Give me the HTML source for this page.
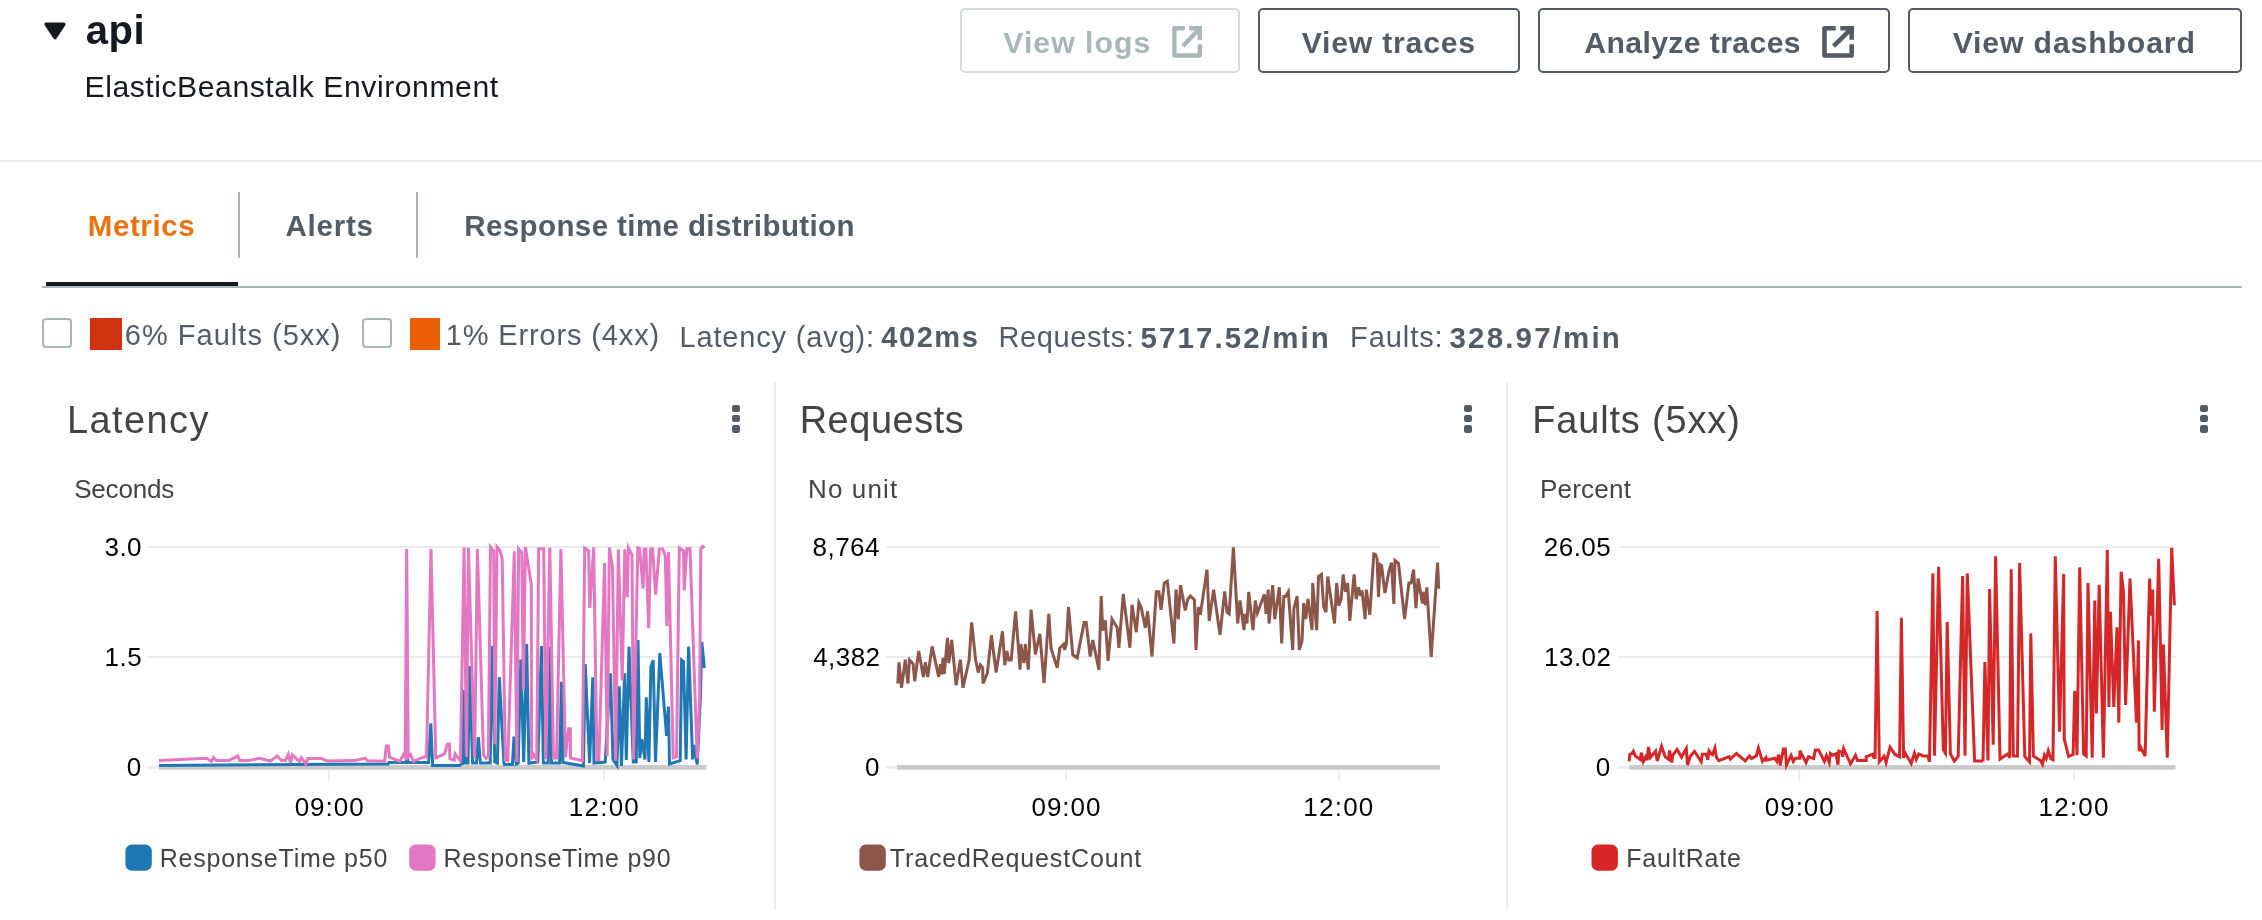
<!DOCTYPE html>
<html lang="en"><head><meta charset="utf-8"><title>api - ElasticBeanstalk Environment</title>
<style>
html,body{margin:0;padding:0;background:#fff;}
body{width:2262px;height:920px;position:relative;overflow:hidden;font-family:"Liberation Sans",sans-serif;}
.t{position:absolute;white-space:nowrap;line-height:1;display:block;margin:0;padding:0;font-weight:normal;text-decoration:none;}
#page{position:absolute;left:0;top:0;width:2262px;height:920px;will-change:transform;}
.abs{position:absolute;}
.btn{position:absolute;box-sizing:border-box;top:8.2px;height:65.2px;border:2px solid #545b64;border-radius:5px;background:#fff;margin:0;padding:0;font:inherit;overflow:visible;text-align:left;}
.btn.dis{border-color:#d5dbdb;}
.cb{position:absolute;box-sizing:border-box;width:30px;height:30px;top:318px;border:2px solid #aab7b8;border-radius:4px;background:#fff;}
.dot{position:absolute;width:8px;height:7.6px;border-radius:2.2px;background:#545b64;}
svg{position:absolute;left:0;top:0;}
</style></head><body><div id="page">

<header>
<svg width="120" height="60" viewBox="0 0 120 60"><path d="M46.2 24.2 L63.8 24.2 L55 37.6 Z" fill="#16191f" stroke="#16191f" stroke-width="3.6" stroke-linejoin="round"/></svg>
<h2 class="t " style="left:85.80px;top:9.94px;font-size:40.00px;letter-spacing:0.450px;color:#16191f;font-weight:bold;">api</h2>
<span class="t " style="left:84.51px;top:72.34px;font-size:30.20px;letter-spacing:0.528px;color:#16191f;">ElasticBeanstalk Environment</span>
<button type="button" class="btn dis" disabled style="left:960.2px;width:279.5px;"><span class="t " style="left:41.16px;top:18.04px;font-size:30.20px;letter-spacing:1.019px;color:#aab7b8;font-weight:bold;">View logs</span></button>
<button type="button" class="btn" style="left:1258.2px;width:261.6px;"><span class="t " style="left:41.46px;top:18.04px;font-size:30.20px;letter-spacing:0.790px;color:#545b64;font-weight:bold;">View traces</span></button>
<button type="button" class="btn" style="left:1538.4px;width:351.4px;"><span class="t " style="left:43.84px;top:18.04px;font-size:30.20px;letter-spacing:0.384px;color:#545b64;font-weight:bold;">Analyze traces</span></button>
<button type="button" class="btn" style="left:1908.4px;width:333.4px;"><span class="t " style="left:42.26px;top:18.04px;font-size:30.20px;letter-spacing:0.867px;color:#545b64;font-weight:bold;">View dashboard</span></button>
<svg width="2262" height="80" viewBox="0 0 2262 80" style="pointer-events:none"><g transform="translate(0,0)" fill="none" stroke="#545b64" stroke-width="4.6"><path d="M1835.7 28.3 H1824.5 V55.5 H1851.7 V44.2" stroke-linejoin="round"/><path d="M1840.3 28.3 H1851.7 V39.7" stroke-linejoin="miter"/><path d="M1851.7 28.3 L1833.6 46.1"/></g></svg>
<svg width="2262" height="80" viewBox="0 0 2262 80" style="pointer-events:none"><g transform="translate(1172.2,0) scale(0.937,1) translate(-1822.2,0)" fill="none" stroke="#aab7b8" stroke-width="4.6"><path d="M1835.7 28.3 H1824.5 V55.5 H1851.7 V44.2" stroke-linejoin="round"/><path d="M1840.3 28.3 H1851.7 V39.7" stroke-linejoin="miter"/><path d="M1851.7 28.3 L1833.6 46.1"/></g></svg>
</header>
<div class="abs" style="left:0;top:160px;width:2262px;height:2px;background:#eaeded"></div>
<nav>
<a class="t " style="left:87.71px;top:210.53px;font-size:29.50px;letter-spacing:0.620px;color:#ec7211;font-weight:bold;">Metrics</a>
<a class="t " style="left:285.46px;top:210.53px;font-size:29.50px;letter-spacing:0.792px;color:#545b64;font-weight:bold;">Alerts</a>
<a class="t " style="left:464.31px;top:210.73px;font-size:29.50px;letter-spacing:0.400px;color:#545b64;font-weight:bold;">Response time distribution</a>
<div class="abs" style="left:238px;top:192px;width:2px;height:66px;background:#aab7b8"></div>
<div class="abs" style="left:416px;top:192px;width:2px;height:66px;background:#aab7b8"></div>
<div class="abs" style="left:42px;top:286px;width:2200px;height:2px;background:#aab7b8"></div>
<div class="abs" style="left:46px;top:281.7px;width:192px;height:4.3px;background:#16191f"></div>
</nav>
<section>
<div class="cb" style="left:42.3px"></div>
<div class="abs" style="left:89.8px;top:318.1px;width:32.1px;height:31.5px;background:#d13212"></div>
<span class="t " style="left:124.85px;top:321.25px;font-size:29.00px;letter-spacing:1.013px;color:#545b64;">6% Faults (5xx)</span>
<div class="cb" style="left:361.8px"></div>
<div class="abs" style="left:409.9px;top:318.1px;width:30.1px;height:31.5px;background:#eb5f07"></div>
<span class="t " style="left:445.72px;top:321.25px;font-size:29.00px;letter-spacing:0.858px;color:#545b64;">1% Errors (4xx)</span>
<span class="t " style="left:679.51px;top:323.05px;font-size:29.00px;letter-spacing:0.840px;color:#545b64;">Latency (avg):</span>
<span class="t " style="left:881.37px;top:323.05px;font-size:29.00px;letter-spacing:1.533px;color:#545b64;font-weight:bold;">402ms</span>
<span class="t " style="left:998.41px;top:323.05px;font-size:29.00px;letter-spacing:0.616px;color:#545b64;">Requests:</span>
<span class="t " style="left:1140.52px;top:322.63px;font-size:29.50px;letter-spacing:2.099px;color:#545b64;font-weight:bold;">5717.52/min</span>
<span class="t " style="left:1350.01px;top:323.05px;font-size:29.00px;letter-spacing:0.934px;color:#545b64;">Faults:</span>
<span class="t " style="left:1449.54px;top:322.63px;font-size:29.50px;letter-spacing:2.157px;color:#545b64;font-weight:bold;">328.97/min</span>
</section>
<main>
<div class="abs" style="left:774px;top:382px;width:2px;height:528px;background:#eaeded"></div>
<div class="abs" style="left:1506px;top:382px;width:2px;height:528px;background:#eaeded"></div>
<h3 class="t " style="left:67.07px;top:401.72px;font-size:37.90px;letter-spacing:1.443px;color:#444444;">Latency</h3>
<h3 class="t " style="left:799.67px;top:401.72px;font-size:37.90px;letter-spacing:0.575px;color:#444444;">Requests</h3>
<h3 class="t " style="left:1532.27px;top:401.72px;font-size:37.90px;letter-spacing:0.870px;color:#444444;">Faults (5xx)</h3>
<span class="t " style="left:74.13px;top:476.29px;font-size:26.00px;letter-spacing:-0.171px;color:#444444;">Seconds</span>
<span class="t " style="left:808.06px;top:476.29px;font-size:26.00px;letter-spacing:1.114px;color:#444444;">No unit</span>
<span class="t " style="left:1539.95px;top:476.29px;font-size:26.00px;letter-spacing:0.228px;color:#444444;">Percent</span>
<div class="dot" style="left:732.1px;top:404.6px"></div>
<div class="dot" style="left:732.1px;top:414.9px"></div>
<div class="dot" style="left:732.1px;top:425.2px"></div>
<div class="dot" style="left:1464.2px;top:404.6px"></div>
<div class="dot" style="left:1464.2px;top:414.9px"></div>
<div class="dot" style="left:1464.2px;top:425.2px"></div>
<div class="dot" style="left:2200px;top:404.6px"></div>
<div class="dot" style="left:2200px;top:414.9px"></div>
<div class="dot" style="left:2200px;top:425.2px"></div>
<svg width="2262" height="920" viewBox="0 0 2262 920">
<rect x="148" y="546" width="558.5" height="2" fill="#ececec"/>
<rect x="148" y="656" width="558.5" height="2" fill="#ececec"/>
<rect x="148" y="766" width="10.5" height="2.8" fill="#ececec"/>
<rect x="328.1" y="768" width="1.8" height="13" fill="#ececec"/>
<rect x="603.1" y="768" width="1.8" height="13" fill="#ececec"/>
<rect x="158.5" y="765" width="548.0" height="4.7" fill="#cbcbcb"/>
<rect x="886" y="546" width="554" height="2" fill="#ececec"/>
<rect x="886" y="656" width="554" height="2" fill="#ececec"/>
<rect x="886" y="766" width="10.899999999999977" height="2.8" fill="#ececec"/>
<rect x="1065.1" y="768" width="1.8" height="13" fill="#ececec"/>
<rect x="1337.8999999999999" y="768" width="1.8" height="13" fill="#ececec"/>
<rect x="896.9" y="765" width="543.1" height="4.7" fill="#cbcbcb"/>
<rect x="1618" y="546" width="557.5" height="2" fill="#ececec"/>
<rect x="1618" y="656" width="557.5" height="2" fill="#ececec"/>
<rect x="1618" y="766" width="11" height="2.8" fill="#ececec"/>
<rect x="1798.3999999999999" y="768" width="1.8" height="13" fill="#ececec"/>
<rect x="2073.1" y="768" width="1.8" height="13" fill="#ececec"/>
<rect x="1629" y="765" width="546.5" height="4.7" fill="#cbcbcb"/>
<polyline points="159.0,765.4 335.0,764.3 388.0,764.0 389.0,762.6 406.3,762.6 407.0,720.0 407.7,762.6 428.6,762.6 430.8,723.3 432.6,765.4 459.5,765.4 462.6,763.5 464.0,690.0 465.4,763.0 468.0,763.0 469.6,666.0 472.6,763.0 476.5,763.0 478.3,737.0 480.4,763.0 490.2,763.0 492.1,646.0 494.8,762.0 497.4,763.0 499.3,677.2 503.9,763.0 504.5,764.5 512.4,764.5 514.0,736.5 516.3,764.0 518.2,763.0 520.8,659.6 523.7,762.0 526.7,644.0 528.9,763.3 537.8,762.0 541.5,646.0 543.3,763.0 548.2,763.0 549.8,647.0 551.5,763.0 559.6,763.0 561.5,681.7 562.8,762.5 583.5,765.9 585.2,664.0 589.6,763.0 592.8,677.2 594.0,763.0 605.2,762.0 610.4,673.3 613.0,759.5 617.0,765.5 619.3,686.3 621.5,766.0 624.6,673.3 626.3,760.0 629.0,646.6 633.3,762.0 636.2,762.0 638.0,640.0 639.8,758.0 641.8,739.2 645.0,759.4 646.3,697.4 648.9,762.0 650.9,666.7 653.2,660.2 655.5,762.0 659.8,653.0 666.6,736.0 668.4,706.5 669.5,764.0 680.2,760.7 681.6,660.0 683.5,661.5 686.1,759.4 688.6,646.6 692.6,759.4 694.0,745.0 697.2,764.6 700.3,700.0 701.8,642.0 704.4,668.0" fill="none" stroke="#1f77b4" stroke-width="3" stroke-linejoin="miter" stroke-miterlimit="4"/>
<polyline points="159.0,760.6 206.7,758.2 211.5,761.4 213.5,757.5 216.3,760.6 229.0,760.6 237.8,755.9 239.7,760.6 248.9,760.6 259.6,758.2 270.4,761.0 277.1,755.9 281.5,760.6 285.5,760.6 288.3,754.3 290.5,763.0 292.3,755.1 299.4,761.4 301.4,757.9 305.9,764.2 307.8,758.5 321.3,758.5 327.7,761.0 354.4,760.6 365.2,758.2 367.6,761.0 384.7,761.0 386.3,745.9 388.3,745.9 389.5,757.1 399.8,761.4 403.4,754.7 405.2,757.0 406.7,549.0 408.2,757.0 410.5,754.7 413.3,761.4 425.3,756.3 426.5,757.0 431.0,549.0 435.8,758.0 436.4,757.9 444.4,753.9 447.5,743.9 449.5,743.9 449.9,758.6 454.3,760.2 455.1,753.9 460.2,760.5 460.5,757.0 464.1,547.5 466.5,757.0 468.4,547.5 474.6,759.3 477.4,549.0 483.5,755.0 486.0,758.5 488.3,757.0 490.5,547.0 493.7,551.0 494.9,744.3 497.0,547.0 500.0,550.4 502.2,559.0 505.3,760.0 507.8,760.8 514.3,551.3 516.9,762.0 518.6,548.7 521.8,552.5 523.4,689.6 525.4,547.0 531.3,584.5 531.6,759.3 533.5,754.1 536.7,759.3 538.7,548.7 543.7,548.7 545.9,759.3 549.8,547.5 553.5,758.0 556.5,758.0 560.9,549.0 565.4,757.4 568.7,728.7 570.3,728.7 570.5,758.0 582.4,760.6 584.7,548.0 588.6,550.7 589.8,608.0 593.7,547.4 596.9,759.5 598.9,759.5 604.6,563.0 607.2,756.0 609.4,547.4 612.5,567.0 615.7,760.7 618.3,549.4 622.2,680.4 624.8,549.4 627.2,597.2 628.4,548.0 632.0,554.6 633.5,759.4 637.8,547.8 639.5,548.3 643.1,588.5 644.1,548.9 645.9,548.9 648.7,628.2 650.6,548.9 652.6,548.9 655.6,594.7 659.4,548.9 662.7,548.9 665.3,556.0 666.8,626.0 668.5,551.8 673.2,758.0 676.5,757.0 679.3,548.0 683.5,550.7 684.2,590.5 686.8,548.7 690.0,548.7 697.2,758.5 699.6,700.0 700.8,549.0 702.5,546.5 704.5,548.0" fill="none" stroke="#e377c2" stroke-width="3" stroke-linejoin="miter" stroke-miterlimit="4"/>
<polyline points="897.8,683.5 899.0,662.3 901.5,687.8 905.3,659.7 907.9,683.5 909.5,660.0 913.1,663.8 914.7,681.2 918.7,651.0 923.4,677.0 925.3,662.3 927.7,677.0 932.1,646.4 938.7,676.9 940.4,664.3 941.8,674.3 943.0,657.9 944.3,673.9 947.4,637.9 948.8,663.1 951.7,640.0 956.1,685.2 960.4,659.7 963.0,687.8 969.1,660.0 971.7,622.3 975.6,660.0 978.3,672.5 980.4,664.9 982.7,667.8 983.0,683.5 987.4,673.0 991.4,635.3 996.1,672.5 1002.5,631.3 1004.8,665.2 1006.9,651.0 1008.8,660.0 1011.2,660.0 1015.6,611.3 1020.1,669.6 1020.8,644.3 1023.9,663.1 1025.3,644.0 1028.3,669.6 1031.1,609.6 1035.4,654.4 1039.8,633.9 1044.1,683.0 1048.8,613.9 1051.1,648.7 1057.2,667.8 1059.8,648.2 1063.6,644.3 1064.7,649.9 1066.4,643.5 1068.5,607.0 1072.8,654.8 1077.2,657.9 1084.1,622.6 1086.2,622.6 1090.2,656.5 1092.8,640.0 1098.9,669.6 1101.2,596.0 1102.7,630.4 1105.3,620.3 1108.1,660.9 1112.0,619.1 1117.2,627.8 1118.9,647.8 1123.3,593.9 1129.9,647.8 1132.0,604.7 1136.3,632.2 1138.9,602.6 1141.2,607.5 1145.3,627.8 1147.6,611.3 1152.0,656.5 1156.3,591.8 1158.9,591.8 1161.0,609.9 1164.3,583.1 1167.3,581.2 1173.9,643.5 1176.0,589.6 1178.3,619.1 1180.5,585.2 1185.2,610.4 1187.8,599.1 1190.4,596.0 1194.4,600.0 1196.0,649.9 1198.3,607.0 1200.3,614.8 1207.0,569.6 1209.2,620.9 1213.6,589.6 1220.0,634.8 1224.7,591.3 1227.0,612.2 1229.2,613.9 1233.4,547.3 1237.7,623.5 1240.0,600.5 1244.0,630.1 1244.9,613.9 1247.0,623.5 1248.7,591.8 1253.0,630.1 1255.3,600.5 1257.4,613.0 1264.3,594.3 1266.1,613.9 1268.2,589.6 1269.0,623.5 1272.7,585.2 1274.8,619.1 1279.3,587.3 1281.7,643.5 1283.8,596.5 1285.6,596.5 1288.3,591.8 1292.7,649.9 1293.9,608.7 1297.1,596.0 1299.3,649.9 1302.0,640.9 1303.7,603.0 1305.8,619.1 1308.0,598.8 1312.0,630.1 1312.7,583.1 1316.7,630.1 1318.5,576.5 1321.4,574.4 1323.7,607.0 1326.0,612.2 1327.7,576.5 1334.5,623.5 1336.7,583.1 1338.8,605.7 1341.1,599.1 1343.2,574.4 1345.4,591.8 1347.7,583.1 1349.8,620.9 1354.1,574.4 1356.2,599.1 1358.5,587.3 1360.7,596.0 1362.0,590.4 1365.1,619.1 1366.3,589.6 1369.8,614.8 1373.8,553.9 1375.3,554.3 1377.1,558.8 1378.5,597.0 1380.2,564.7 1381.6,565.7 1384.9,593.0 1387.2,580.9 1388.9,571.3 1391.5,562.6 1393.8,604.0 1395.0,560.5 1398.5,563.5 1404.6,619.1 1408.9,583.1 1411.2,583.1 1413.6,569.6 1415.9,608.2 1418.1,578.6 1422.5,603.5 1424.0,591.8 1425.4,605.2 1426.8,587.3 1431.2,656.9 1437.6,562.6 1438.7,588.7" fill="none" stroke="#8c564b" stroke-width="3" stroke-linejoin="miter" stroke-miterlimit="4"/>
<polyline points="1629.1,761.4 1629.9,754.3 1631.8,753.9 1633.4,751.3 1635.5,756.1 1640.3,759.6 1641.2,752.7 1643.3,761.7 1645.8,756.9 1647.1,760.1 1648.5,746.9 1650.3,757.5 1655.6,751.3 1657.2,761.0 1661.6,746.2 1665.2,756.9 1668.6,759.3 1669.6,750.5 1671.8,762.6 1672.7,755.3 1677.1,749.5 1681.5,757.1 1686.3,748.5 1687.5,765.0 1690.3,756.3 1694.6,751.5 1701.2,761.7 1702.3,754.3 1706.2,754.3 1707.8,759.8 1709.0,750.8 1711.3,753.9 1712.5,754.7 1714.9,748.1 1716.5,757.5 1718.9,760.6 1729.2,756.7 1730.4,759.0 1736.4,753.5 1745.2,761.0 1749.5,755.9 1751.5,758.5 1756.3,755.9 1758.4,747.9 1762.5,761.4 1766.0,757.5 1766.5,760.1 1774.6,758.2 1776.8,761.4 1778.6,754.7 1780.2,765.4 1783.4,749.1 1785.3,749.1 1786.5,765.0 1791.1,755.5 1793.3,761.4 1795.3,758.2 1799.8,758.2 1799.9,750.8 1806.1,762.6 1808.5,756.7 1813.7,758.6 1815.3,749.9 1818.5,749.9 1824.4,761.4 1826.4,755.5 1829.2,762.6 1830.4,753.5 1832.8,755.3 1836.0,753.9 1838.0,764.6 1838.8,751.1 1841.9,751.9 1842.7,756.7 1843.7,748.7 1850.5,763.8 1855.5,755.5 1857.5,760.6 1866.2,760.6 1866.2,756.7 1872.6,754.3 1873.8,757.5 1875.1,757.5 1877.1,610.9 1879.3,761.8 1884.1,756.3 1886.1,762.6 1890.1,747.1 1894.9,754.3 1899.6,756.7 1901.4,617.7 1903.6,757.9 1905.2,753.1 1911.2,763.4 1914.4,753.1 1916.3,759.4 1918.7,753.9 1923.1,755.9 1927.9,755.9 1929.5,761.8 1932.9,573.4 1934.5,755.8 1938.6,566.9 1943.3,749.9 1945.4,753.2 1947.2,622.1 1950.4,753.8 1954.3,761.1 1958.2,756.4 1962.6,576.0 1965.0,755.8 1967.3,573.4 1974.6,761.1 1983.0,761.1 1983.0,761.2 1984.9,662.1 1988.0,760.5 1989.6,589.0 1993.2,744.8 1995.6,556.2 2000.0,759.1 2007.8,753.9 2009.7,757.8 2011.2,569.2 2013.3,756.0 2017.5,756.0 2019.6,563.0 2024.8,756.5 2029.5,761.8 2030.8,633.4 2033.4,756.0 2040.4,760.5 2042.5,764.4 2044.4,755.2 2046.2,758.6 2048.3,750.8 2050.9,758.6 2053.0,759.7 2055.3,556.2 2059.5,731.8 2063.7,573.9 2064.2,738.8 2068.6,756.5 2073.1,754.5 2074.7,690.8 2077.0,755.2 2079.7,567.4 2083.6,753.9 2086.2,756.0 2088.0,583.0 2092.2,757.8 2094.8,600.5 2096.4,713.5 2099.2,584.9 2103.4,757.8 2107.3,549.9 2108.9,707.0 2110.4,611.7 2113.8,707.0 2117.0,627.4 2118.8,722.6 2121.1,571.8 2123.5,592.2 2125.6,704.9 2130.0,578.6 2136.5,722.6 2138.4,640.4 2139.1,751.3 2140.7,747.4 2145.1,756.0 2149.6,578.6 2151.1,615.7 2152.7,589.6 2154.3,711.7 2158.7,558.8 2162.1,729.9 2163.4,644.4 2167.3,757.8 2171.7,547.8 2174.4,605.2" fill="none" stroke="#d62728" stroke-width="3" stroke-linejoin="miter" stroke-miterlimit="4"/>
<rect x="125.4" y="844.5" width="26.4" height="26.2" rx="6.5" fill="#1f77b4"/>
<rect x="409.2" y="844.5" width="26.4" height="26.2" rx="6.5" fill="#e377c2"/>
<rect x="859.4" y="844.5" width="26.4" height="26.2" rx="6.5" fill="#8c564b"/>
<rect x="1591.5" y="844.5" width="26.4" height="26.2" rx="6.5" fill="#d62728"/>
</svg>
<span class="t " style="left:104.41px;top:534.39px;font-size:26.00px;letter-spacing:0.513px;color:#000000;">3.0</span>
<span class="t " style="left:104.51px;top:644.39px;font-size:26.00px;letter-spacing:0.497px;color:#000000;">1.5</span>
<span class="t " style="left:126.77px;top:754.39px;font-size:26.00px;letter-spacing:0.000px;color:#000000;">0</span>
<span class="t " style="left:812.55px;top:534.39px;font-size:26.00px;letter-spacing:0.474px;color:#000000;">8,764</span>
<span class="t " style="left:813.14px;top:644.39px;font-size:26.00px;letter-spacing:0.474px;color:#000000;">4,382</span>
<span class="t " style="left:864.97px;top:754.39px;font-size:26.00px;letter-spacing:0.000px;color:#000000;">0</span>
<span class="t " style="left:1543.79px;top:534.39px;font-size:26.00px;letter-spacing:0.470px;color:#000000;">26.05</span>
<span class="t " style="left:1544.08px;top:644.39px;font-size:26.00px;letter-spacing:0.464px;color:#000000;">13.02</span>
<span class="t " style="left:1595.87px;top:754.39px;font-size:26.00px;letter-spacing:0.000px;color:#000000;">0</span>
<span class="t " style="left:294.66px;top:794.39px;font-size:26.00px;letter-spacing:0.988px;color:#000000;">09:00</span>
<span class="t " style="left:568.85px;top:794.39px;font-size:26.00px;letter-spacing:1.215px;color:#000000;">12:00</span>
<span class="t " style="left:1031.46px;top:794.39px;font-size:26.00px;letter-spacing:0.988px;color:#000000;">09:00</span>
<span class="t " style="left:1303.35px;top:794.39px;font-size:26.00px;letter-spacing:1.215px;color:#000000;">12:00</span>
<span class="t " style="left:1764.76px;top:794.39px;font-size:26.00px;letter-spacing:0.988px;color:#000000;">09:00</span>
<span class="t " style="left:2038.55px;top:794.39px;font-size:26.00px;letter-spacing:1.215px;color:#000000;">12:00</span>
<span class="t " style="left:159.64px;top:846.34px;font-size:25.00px;letter-spacing:0.792px;color:#444444;">ResponseTime p50</span>
<span class="t " style="left:443.44px;top:846.34px;font-size:25.00px;letter-spacing:0.759px;color:#444444;">ResponseTime p90</span>
<span class="t " style="left:889.76px;top:846.34px;font-size:25.00px;letter-spacing:0.867px;color:#444444;">TracedRequestCount</span>
<span class="t " style="left:1626.24px;top:846.34px;font-size:25.00px;letter-spacing:0.781px;color:#444444;">FaultRate</span>
</main>
</div></body></html>
